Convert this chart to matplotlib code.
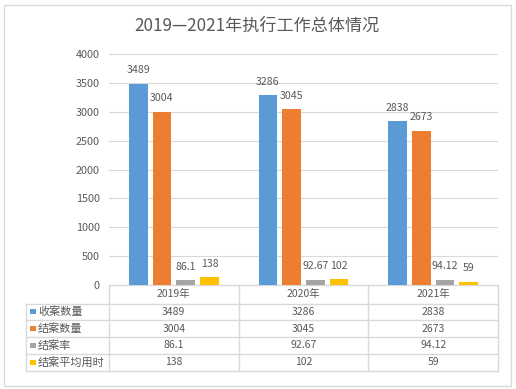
import matplotlib
matplotlib.use('Agg')
import matplotlib.pyplot as plt
from matplotlib.patches import Rectangle
from matplotlib.lines import Line2D

plt.rcParams['font.family'] = ['Noto Sans CJK SC', 'DejaVu Sans']

title = "2019—2021年执行工作总体情况"
categories = ["2019年", "2020年", "2021年"]
series_names = ["收案数量", "结案数量", "结案率", "结案平均用时"]
received = [3489, 3286, 2838]
closed = [3004, 3045, 2673]
close_rate = [86.1, 92.67, 94.12]
avg_days = [138, 102, 59]
yticks = [0, 500, 1000, 1500, 2000, 2500, 3000, 3500, 4000]
colors = ['#5B9BD5', '#ED7D31', '#A5A5A5', '#FFC000']

series = [received, closed, close_rate, avg_days]
TXT = '#595959'
GRID = '#D9D9D9'

W, H = 516, 389
fig = plt.figure(figsize=(W / 100, H / 100), dpi=100)


def fx(px):
    return px / W


def fy(py):
    return 1 - py / H


# background overlay in pixel coords
ov = fig.add_axes([0, 0, 1, 1], zorder=0)
ov.set_xlim(0, W)
ov.set_ylim(H, 0)
ov.axis('off')

ax = fig.add_axes([fx(109), fy(285), fx(498) - fx(109), fy(54) - fy(285)], zorder=1)
ax.patch.set_alpha(0)

n = len(series)
step = 0.183
width = 0.143
xs = list(range(len(categories)))
for i, (vals, c) in enumerate(zip(series, colors)):
    pos = [x + (i - (n - 1) / 2) * step for x in xs]
    ax.bar(pos, vals, width=width, color=c, zorder=2)
    for p, v in zip(pos, vals):
        ax.annotate(f"{v:g}", (p, v), xytext=(0, 7.5), textcoords='offset points',
                    ha='center', va='baseline', fontsize=7.6, color=TXT)

ax.set_xlim(-0.5, len(categories) - 0.5)
ax.set_ylim(0, 4000)
ax.set_yticks(yticks)
ax.set_yticklabels([str(t) for t in yticks])
ax.set_xticks([])
ax.tick_params(axis='y', length=0, pad=6.5, labelsize=7.8, labelcolor=TXT)
ax.yaxis.grid(True, color=GRID, lw=0.8, zorder=0)
ax.set_axisbelow(True)
for s in ax.spines.values():
    s.set_visible(False)

# table geometry from axes scale
fig.canvas.draw()


def px_x(xdata):
    return ax.transData.transform((xdata, 0))[0]


col_edges = [px_x(x - 0.5) for x in xs] + [px_x(xs[-1] + 0.5)]
col_centers = [px_x(x) for x in xs]
y0 = H - ax.transData.transform((0, 0))[1]
header_bottom = y0 + 18.5
row_lines = [header_bottom + k * 16.75 for k in range(n + 1)]
left_x = 26

# outer chart border
ov.add_patch(Rectangle((4, 5), 507, 380.5, fill=False, ec=GRID, lw=1))

# table lines
ov.add_line(Line2D([col_edges[0], col_edges[-1]], [y0, y0], color=GRID, lw=1))
for yl in row_lines:
    ov.add_line(Line2D([left_x, col_edges[-1]], [yl, yl], color=GRID, lw=1))
for xe in col_edges:
    ov.add_line(Line2D([xe, xe], [y0, row_lines[-1]], color=GRID, lw=1))
ov.add_line(Line2D([left_x, left_x], [row_lines[0], row_lines[-1]], color=GRID, lw=1))

# header
for cx, cat in zip(col_centers, categories):
    ov.text(cx, (y0 + header_bottom) / 2, cat, ha='center', va='center', fontsize=7.5, color=TXT)

# rows
for r, (name, vals, c) in enumerate(zip(series_names, series, colors)):
    yc = (row_lines[r] + row_lines[r + 1]) / 2
    ov.add_patch(Rectangle((30.3, yc - 2.6), 5.2, 5.2, color=c, lw=0))
    ov.text(38, yc, name, ha='left', va='center', fontsize=8, color=TXT)
    for cx, v in zip(col_centers, vals):
        ov.text(cx, yc, f"{v:g}", ha='center', va='center', fontsize=7.5, color=TXT)

fig.text(fx(257), fy(26), title, ha='center', va='center', fontsize=12.3, color=TXT)

fig.savefig('out.png', dpi=100)
